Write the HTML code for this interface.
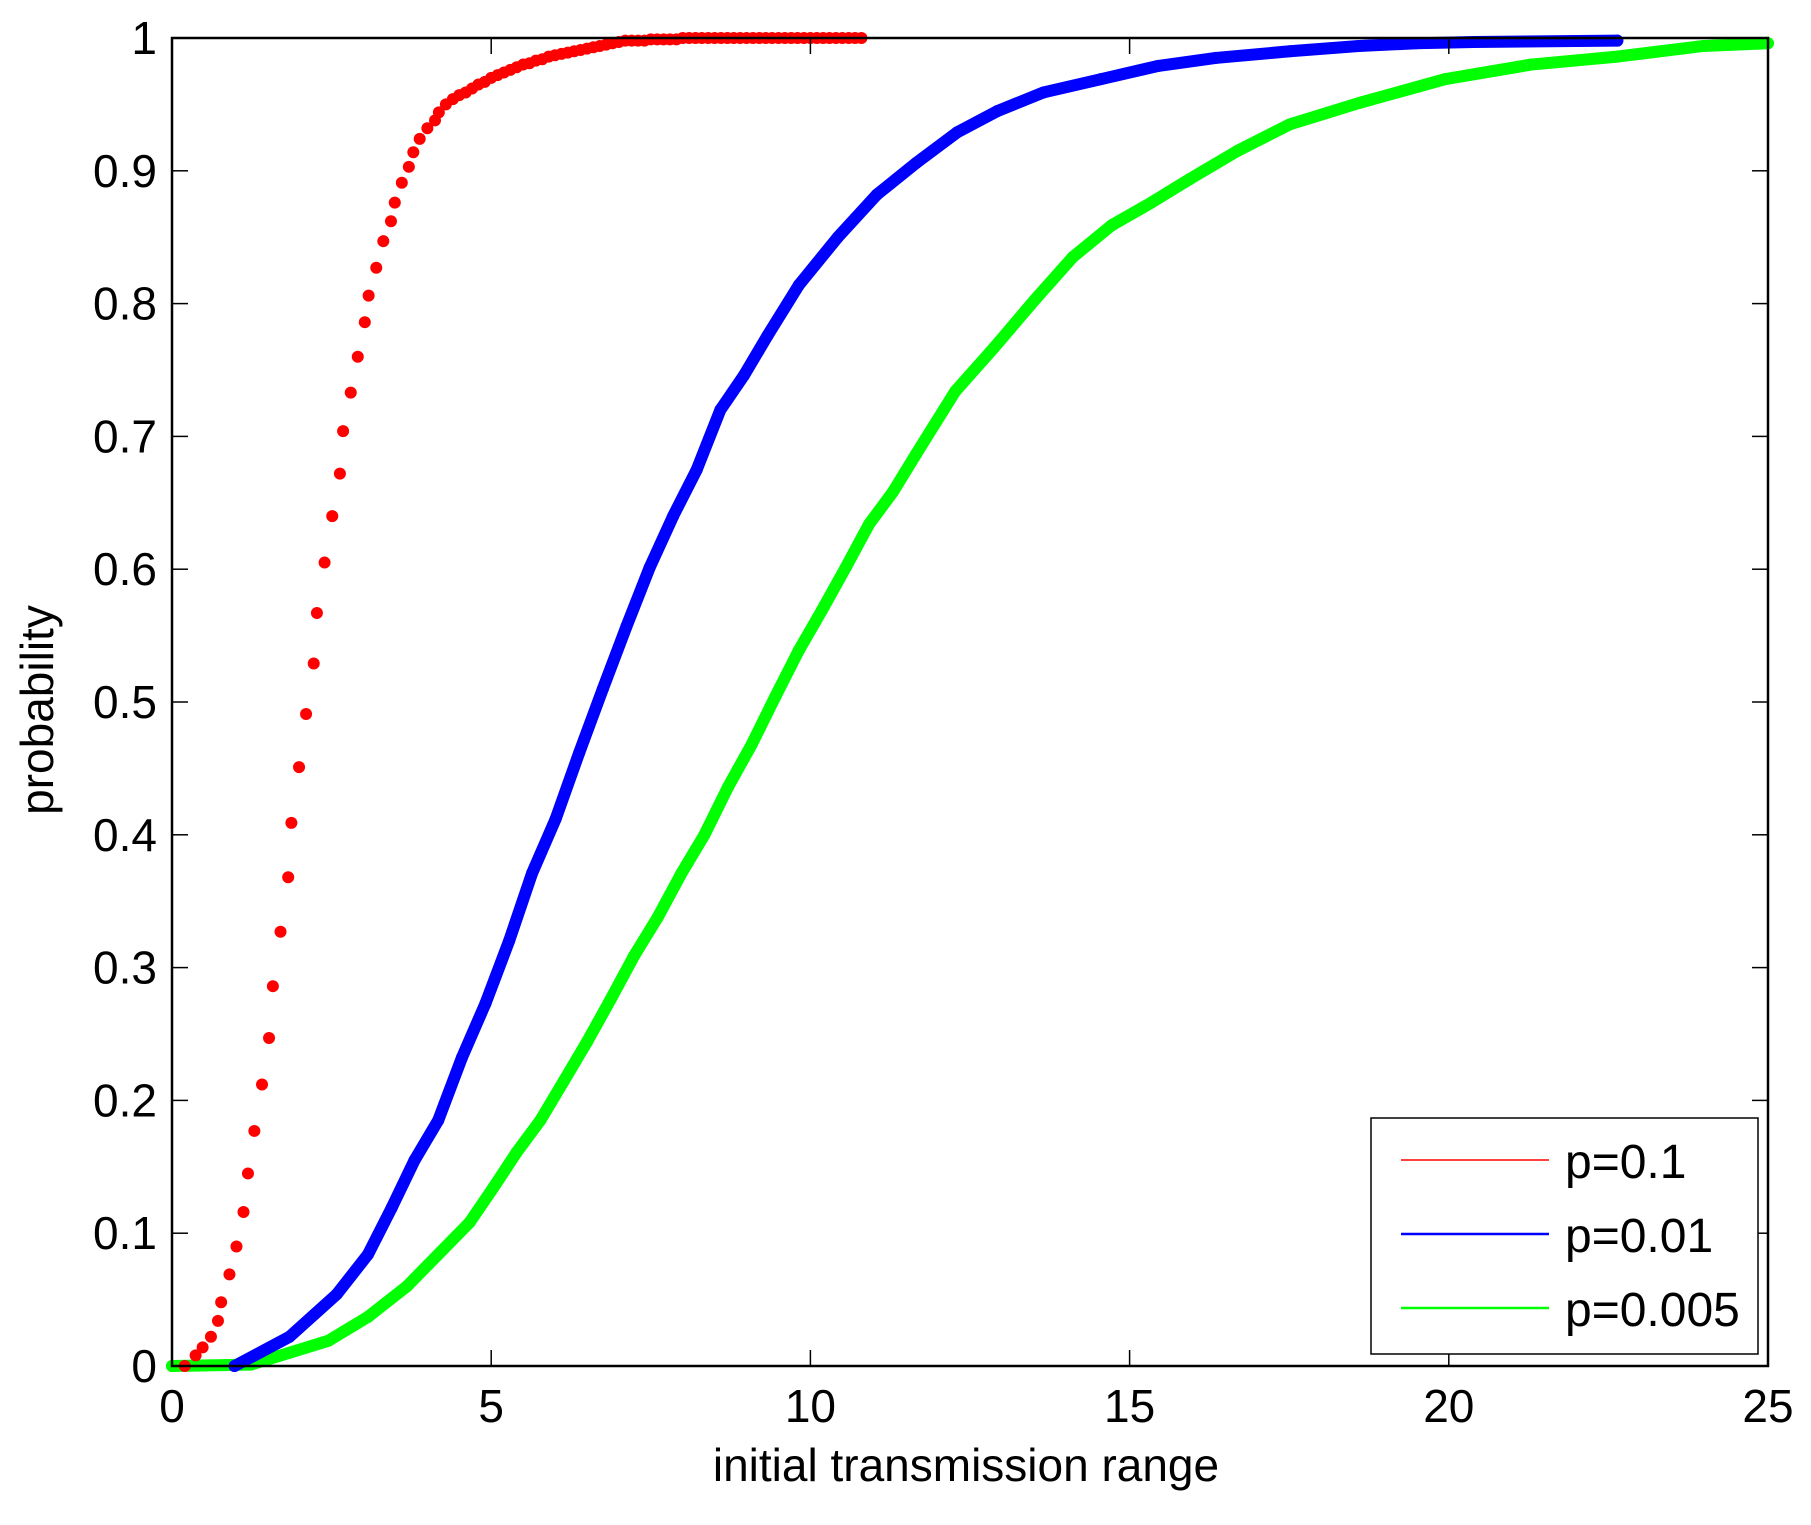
<!DOCTYPE html>
<html><head><meta charset="utf-8"><style>
html,body{margin:0;padding:0;background:#fff;}
svg text{font-family:"Liberation Sans",Arial,sans-serif;fill:#000;}
</style></head><body>
<svg id="chart" width="1811" height="1520" viewBox="0 0 1811 1520" xmlns="http://www.w3.org/2000/svg">
<rect x="0" y="0" width="1811" height="1520" fill="#fff"/>
<g id="series"></g>
<rect x="172" y="38" width="1596" height="1328" fill="none" stroke="#000" stroke-width="2.5"/>
<g id="ticks"></g>
<text x="966" y="1481" font-size="46" text-anchor="middle">initial transmission range</text>
<text transform="translate(53,710) rotate(-90)" font-size="46" text-anchor="middle">probability</text>
<g>
<rect x="1371" y="1118" width="387" height="236" fill="#fff" stroke="#000" stroke-width="1.5"/>
<line x1="1401" y1="1160" x2="1549" y2="1160" stroke="#ff0000" stroke-width="1.5"/>
<text x="1565" y="1178" font-size="48">p=0.1</text>
<line x1="1401" y1="1234" x2="1549" y2="1234" stroke="#0000ff" stroke-width="2.5"/>
<text x="1565" y="1252" font-size="48">p=0.01</text>
<line x1="1401" y1="1308" x2="1549" y2="1308" stroke="#00ff00" stroke-width="2.5"/>
<text x="1565" y="1326" font-size="48">p=0.005</text>
</g>
</svg>
<script>
const xTicks = [0,5,10,15,20,25];
const yTicks = [0,0.1,0.2,0.3,0.4,0.5,0.6,0.7,0.8,0.9,1];
const yTickLabels = ["0","0.1","0.2","0.3","0.4","0.5","0.6","0.7","0.8","0.9","1"];
const redX = [0.2,0.37,0.48,0.61,0.72,0.77,0.90,1.01,1.12,1.19,1.29,1.41,1.52,1.58,1.70,1.82,1.87,1.99,2.10,2.22,2.27,2.39,2.51,2.63,2.68,2.80,2.91,3.02,3.08,3.20,3.31,3.43,3.49,3.60,3.71,3.78,3.88,4.00,4.12,4.18,4.29,4.40,
4.5,4.6,4.7,4.8,4.9,5.0,5.1,5.2,5.3,5.4,5.5,5.6,5.7,5.8,5.9,6.0,6.1,6.2,6.3,6.4,6.5,6.6,6.7,6.8,6.9,7.0,7.1,7.2,7.3,7.4,7.5,7.6,7.7,7.8,7.9,8.0,8.1,8.2,8.3,8.4,8.5,8.6,8.7,8.8,8.9,9.0,9.1,9.2,9.3,9.4,9.5,9.6,9.7,9.8,9.9,10.0,10.1,10.2,10.3,10.4,10.5,10.6,10.7,10.8];
const redY = [0,0.008,0.014,0.022,0.034,0.048,0.069,0.09,0.116,0.145,0.177,0.212,0.247,0.286,0.327,0.368,0.409,0.451,0.491,0.529,0.567,0.605,0.640,0.672,0.704,0.733,0.760,0.786,0.806,0.827,0.847,0.862,0.876,0.891,0.903,0.914,0.924,0.932,0.938,0.944,0.950,0.954,
0.957,0.959,0.962,0.965,0.967,0.970,0.972,0.974,0.976,0.978,0.980,0.981,0.983,0.984,0.986,0.987,0.988,0.989,0.990,0.991,0.992,0.993,0.994,0.995,0.996,0.997,0.998,0.998,0.998,0.998,0.999,0.999,0.999,0.999,0.999,1,1,1,1,1,1,1,1,1,1,1,1,1,1,1,1,1,1,1,1,1,1,1,1,1,1,1,1,1];
const blueX = [0.98,1.84,2.58,3.07,3.44,3.80,4.17,4.54,4.91,5.28,5.64,6.01,6.38,6.75,7.12,7.48,7.85,8.22,8.59,8.96,9.33,9.82,10.43,11.04,11.66,12.30,12.93,13.65,14.55,15.45,16.35,17.51,18.59,19.49,20.39,22.64];
const blueY = [0,0.022,0.054,0.084,0.119,0.155,0.185,0.232,0.273,0.320,0.371,0.412,0.462,0.510,0.557,0.601,0.640,0.675,0.720,0.746,0.776,0.814,0.850,0.882,0.906,0.929,0.945,0.959,0.969,0.979,0.985,0.990,0.994,0.996,0.997,0.998];
const greenX = [0,1.23,1.84,2.45,3.07,3.68,4.17,4.66,5.03,5.40,5.77,6.13,6.50,6.87,7.24,7.61,7.98,8.34,8.71,9.08,9.45,9.82,10.18,10.55,10.92,11.29,11.66,12.27,12.88,13.50,14.11,14.72,15.34,15.95,16.69,17.51,18.59,19.94,21.29,22.64,23.99,25.0];
const greenY = [0,0.001,0.010,0.019,0.037,0.060,0.084,0.108,0.134,0.161,0.185,0.214,0.244,0.276,0.309,0.338,0.371,0.400,0.436,0.468,0.504,0.539,0.569,0.601,0.634,0.658,0.687,0.734,0.767,0.802,0.835,0.859,0.876,0.894,0.915,0.935,0.951,0.969,0.980,0.986,0.994,0.996];

const L=172,R=1768,T=38,B=1366;
function xs(v){return L+(v-0)/(25-0)*(R-L);}
function ys(v){return B-(v-0)/(1-0)*(B-T);}
const NS="http://www.w3.org/2000/svg";
const ticks=document.getElementById('ticks');
const ser=document.getElementById('series');
function mk(tag,attrs,parent){const e=document.createElementNS(NS,tag);for(const k in attrs)e.setAttribute(k,attrs[k]);parent.appendChild(e);return e;}

xTicks.forEach((t)=>{
  const x=xs(t);
  const a=mk('line',{x1:x,y1:B,x2:x,y2:B-16,stroke:'#000','stroke-width':1.5},ticks);
  
  
  const b=mk('line',{x1:x,y1:T,x2:x,y2:T+16,stroke:'#000','stroke-width':1.5},ticks);
  
  
  const tx=mk('text',{x:x,y:1422,'font-size':46,'text-anchor':'middle'},ticks);
  tx.textContent=String(t);
  
  
});
yTicks.forEach((t,i)=>{
  const y=ys(t);
  const a=mk('line',{x1:L,y1:y,x2:L+16,y2:y,stroke:'#000','stroke-width':1.5},ticks);
  
  
  const b=mk('line',{x1:R,y1:y,x2:R-16,y2:y,stroke:'#000','stroke-width':1.5},ticks);
  
  
  const tx=mk('text',{x:157,y:y+16,'font-size':46,'text-anchor':'end'},ticks);
  tx.textContent=yTickLabels[i];
  
  
});

function drawDense(X,Y,color,name){
  const pts=X.map((v,i)=>xs(v)+','+ys(Y[i])).join(' ');
  const pl=mk('polyline',{points:pts,fill:'none',stroke:color,'stroke-width':12,'stroke-linecap':'round','stroke-linejoin':'round'},ser);
  
  
  X.forEach((v,i)=>{
    const c=mk('circle',{cx:xs(v),cy:ys(Y[i]),r:6,fill:color},ser);
    
    
  });
}
drawDense(greenX,greenY,'#00ff00','series-p0005');
drawDense(blueX,blueY,'#0000ff','series-p001');
redX.forEach((v,i)=>{
  const c=mk('circle',{cx:xs(v),cy:ys(redY[i]),r:6,fill:'#ff0000'},ser);
  
  
});
</script>
</body></html>
